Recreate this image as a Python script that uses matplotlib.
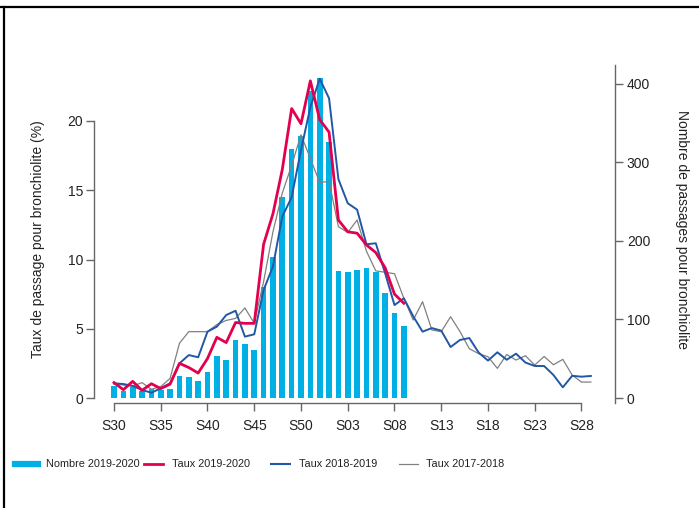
import matplotlib
matplotlib.use("Agg")
import matplotlib.pyplot as plt
from matplotlib.lines import Line2D
import numpy as np

plt.rcParams['font.family'] = ['Liberation Sans', 'DejaVu Sans']

# ---- data ----
weeks = ([f"S{w}" for w in range(30, 53)] + [f"S{w:02d}" for w in range(1, 30)])
tick_labels = ["S30", "S35", "S40", "S45", "S50", "S03", "S08", "S13", "S18", "S23", "S28"]

nombre_2019_2020 = [15, 9, 14, 9, 12, 10, 11, 28, 27, 22, 33, 54, 48, 74, 69, 61,
                    141, 180, 256, 317, 333, 390, 407, 326, 162, 160, 163, 166, 160, 134, 108, 91]

taux_2019_2020 = [1.11, 0.6, 1.2, 0.55, 1.03, 0.68, 1.0, 2.5, 2.2, 1.8, 2.85, 4.38, 4.0, 5.45, 5.39, 5.39,
                  11.1, 13.3, 16.5, 20.9, 19.8, 22.9, 20.1, 19.2, 12.85, 12.0, 11.9, 11.05, 10.5, 9.4, 7.5, 6.84]

taux_2018_2019 = [1.06, 1.01, 0.87, 0.58, 0.38, 0.7, 1.06, 2.5, 3.1, 2.94, 4.79, 5.15, 5.99, 6.3, 4.43, 4.6,
                  7.8, 9.5, 13.1, 14.5, 17.9, 21.0, 23.05, 21.64, 15.8, 14.06, 13.6, 11.1, 11.17, 9.0, 6.71, 7.2,
                  5.9, 4.79, 5.05, 4.86, 3.68, 4.19, 4.33, 3.28, 2.7, 3.3, 2.76, 3.2, 2.56, 2.31, 2.31, 1.66,
                  0.77, 1.6, 1.54, 1.59]

taux_2017_2018 = [1.01, 0.94, 0.87, 1.11, 0.63, 0.82, 1.42, 3.95, 4.79, 4.79, 4.79, 5.3, 5.6, 5.75, 6.5, 5.4,
                  8.4, 12.0, 14.8, 16.8, 19.0, 17.3, 15.55, 15.65, 12.37, 11.95, 12.85, 10.6, 9.18, 9.08, 8.97, 7.2,
                  5.63, 6.95, 4.91, 4.79, 5.87, 4.8, 3.56, 3.2, 2.98, 2.14, 3.14, 2.74, 3.05, 2.38, 3.0, 2.4,
                  2.79, 1.66, 1.15, 1.15]

left_ticks = [0, 5, 10, 15, 20]
right_ticks = [0, 100, 200, 300, 400]

# ---- style ----
c_bar = "#00B0E4"
c_red = "#E2004F"
c_blue = "#2257A5"
c_gray = "#808080"
c_axis = "#666666"
c_text = "#222222"

W, H = 699, 508
fig = plt.figure(figsize=(W / 100, H / 100), dpi=100)
axL = fig.add_axes([94 / W, 1 - 403 / H, (615 - 94) / W, (403 - 65) / H])
axR = axL.twinx()
axL.set_zorder(axR.get_zorder() + 1)
axL.patch.set_visible(False)

x_all = np.arange(len(weeks))
xb = np.arange(len(nombre_2019_2020))

axR.bar(xb, nombre_2019_2020, width=0.6, color=c_bar, linewidth=0)
axL.plot(np.arange(len(taux_2017_2018)), taux_2017_2018, color=c_gray, lw=0.9)
axL.plot(np.arange(len(taux_2018_2019)), taux_2018_2019, color=c_blue, lw=1.4)
axL.plot(np.arange(len(taux_2019_2020)), taux_2019_2020, color=c_red, lw=2.0)

x_lo = (94 - 114) / 9.35
x_hi = (615 - 114) / 9.35
axL.set_xlim(x_lo, x_hi)
axL.set_ylim(-5 / 13.85, 333 / 13.85)
axR.set_ylim(-5 / 0.786, 333 / 0.786)

tick_pos = [weeks.index(t) for t in tick_labels]
axL.set_xticks(tick_pos)
axL.set_xticklabels(tick_labels)
axL.set_yticks(left_ticks)
axR.set_yticks(right_ticks)

for ax in (axL, axR):
    ax.spines['top'].set_visible(False)
    for s in ax.spines.values():
        s.set_color(c_axis)
        s.set_linewidth(1.0)
    ax.tick_params(colors=c_axis, labelcolor=c_text, labelsize=10, length=5.5, width=1.0)

axL.spines['right'].set_visible(False)
axR.spines['left'].set_visible(False)
axR.spines['bottom'].set_visible(False)
axL.spines['left'].set_bounds(0, 20)
axL.spines['bottom'].set_bounds(0, 50)
axL.tick_params(axis='y', pad=2.5)
axL.tick_params(axis='x', pad=6)
axR.tick_params(axis='y', pad=3)

fig.text(38 / W, 1 - 239 / H, "Taux de passage pour bronchiolite (%)", rotation=90,
         ha='center', va='center', fontsize=10, color=c_text)
fig.text(682 / W, 1 - 230 / H, "Nombre de passages pour bronchiolite", rotation=270,
         ha='center', va='center', fontsize=10, color=c_text)

# ---- legend (manual) ----
ly = 1 - 464 / H
items = [(15, 38, c_bar, 4.5, "Nombre 2019-2020", 46),
         (144, 163, c_red, 2.0, "Taux 2019-2020", 172),
         (271, 290, c_blue, 1.5, "Taux 2018-2019", 299),
         (399, 418, c_gray, 0.9, "Taux 2017-2018", 426)]
for x0, x1, col, lw, lab, tx in items:
    fig.add_artist(Line2D([x0 / W, x1 / W], [ly, ly], color=col, lw=lw, transform=fig.transFigure))
    fig.text(tx / W, ly, lab, ha='left', va='center', fontsize=7.8, color=c_text)

# ---- frame lines ----
fig.add_artist(Line2D([0, 1], [1 - 7 / H, 1 - 7 / H], color='black', lw=1.6, transform=fig.transFigure))
fig.add_artist(Line2D([4 / W, 4 / W], [0, 1 - 7 / H], color='black', lw=1.6, transform=fig.transFigure))

fig.savefig("out.png", dpi=100)
